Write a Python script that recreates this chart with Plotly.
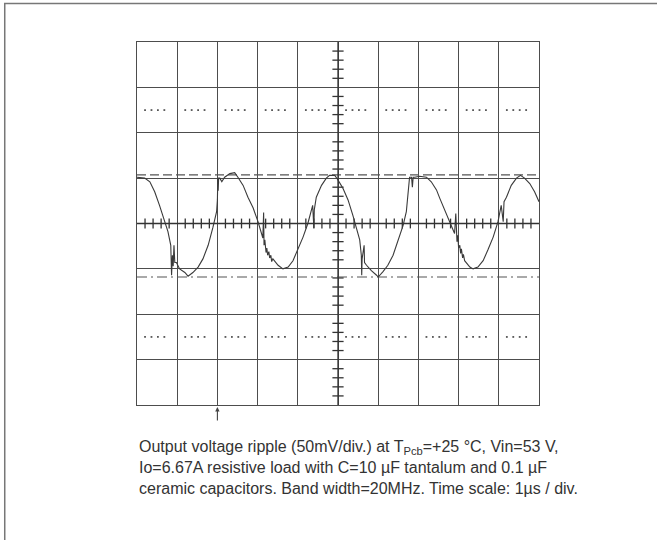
import plotly.graph_objects as go

# Time in microseconds (1 us/div), ripple voltage in mV (50 mV/div)
t_us = [-5.00, -4.81, -4.68, -4.56, -4.44, -4.31, -4.23, -4.16, -4.15, -4.14, -4.12, -4.10, -4.08, -4.06,
        -4.02, -3.94, -3.81, -3.73, -3.61, -3.48, -3.36, -3.23, -3.11, -3.02, -3.00, -2.99, -2.98, -2.97,
        -2.94, -2.89, -2.82, -2.69, -2.57, -2.49, -2.36, -2.24, -2.11, -1.99, -1.91, -1.87, -1.85, -1.84,
        -1.82, -1.81, -1.80, -1.79, -1.77, -1.75, -1.72, -1.70, -1.67, -1.65, -1.62, -1.49, -1.37, -1.24,
        -1.12, -1.00, -0.87, -0.75, -0.65, -0.63, -0.60, -0.59, -0.54, -0.41, -0.29, -0.21, -0.08, 0.00,
        0.12, 0.25, 0.37, 0.46, 0.54, 0.58, 0.59, 0.60, 0.65, 0.66, 0.71, 0.83, 0.96, 1.00,
        1.12, 1.24, 1.37, 1.49, 1.62, 1.70, 1.74, 1.78, 1.83, 1.85, 1.87, 1.91, 2.03, 2.20,
        2.32, 2.45, 2.53, 2.65, 2.78, 2.90, 2.93, 2.94, 2.96, 2.98, 3.00, 3.03, 3.05, 3.07,
        3.10, 3.12, 3.15, 3.28, 3.36, 3.48, 3.61, 3.73, 3.86, 3.98, 4.06, 4.11, 4.13, 4.19,
        4.31, 4.44, 4.54, 4.64, 4.77, 4.89, 5.00]
v_mV = [51, 50, 46, 35, 20, 2, -9, -24, -43, -57, -35, -47, -24, -43,
        -43, -50, -54, -58, -54, -48, -39, -24, -4, 13, 26, 50, 36, 50,
        50, 46, 51, 55, 56, 51, 42, 29, 17, 2, -9, -16, 12, -24,
        -18, -29, -22, -32, -27, -35, -31, -38, -35, -42, -39, -46, -50, -48,
        -41, -29, -15, 0, 17, 20, -5, 15, 29, 42, 50, 53, 53, 48,
        39, 26, 9, -4, -18, -35, -57, -39, -24, -43, -46, -52, -57, -59,
        -53, -46, -35, -20, -2, 13, 35, 51, 51, 40, 51, 51, 52, 51,
        46, 37, 28, 15, 2, -11, 11, -16, -20, -13, -27, -24, -33, -28,
        -38, -34, -41, -48, -50, -48, -41, -29, -15, 2, 20, 2, 24, 29,
        42, 50, 53, 50, 44, 35, 24]

cursor_upper_mV = 53.5
cursor_lower_mV = -59
channel_level_mV = 12
trigger_time_us = -3.0

caption = ("Output voltage ripple (50mV/div.) at T<sub>Pcb</sub>=+25 °C, Vin=53 V,<br>"
           "Io=6.67A resistive load with C=10 µF tantalum and 0.1 µF<br>"
           "ceramic capacitors. Band width=20MHz. Time scale: 1µs / div.")

GRID = "#4d4d4d"
fig = go.Figure()

# Graticule ticks on centre axes (0.2 div)
vt = [k * 10 for k in range(-19, 20) if k % 5 != 0]
ht = [k * 0.2 for k in range(-24, 25) if k % 5 != 0]
fig.add_trace(go.Scatter(x=[0] * len(vt), y=vt, mode="markers", hoverinfo="skip",
                         marker=dict(symbol="line-ew", size=8, line=dict(width=1.3, color="#333"))))
fig.add_trace(go.Scatter(x=ht, y=[0] * len(ht), mode="markers", hoverinfo="skip",
                         marker=dict(symbol="line-ns", size=7, line=dict(width=1.3, color="#333"))))

# Dotted rows
dx, dy = [], []
for k in range(-5, 5):
    for j in range(4):
        for yy in (125, -125):
            dx.append(k + 0.2 + 0.16 * j)
            dy.append(yy)
fig.add_trace(go.Scatter(x=dx, y=dy, mode="markers", hoverinfo="skip",
                         marker=dict(symbol="square", size=1.8, color="#555", line=dict(width=0))))

# Cursors
fig.add_trace(go.Scatter(x=[-5, 5], y=[cursor_upper_mV] * 2, mode="lines",
                         line=dict(color="#555", width=1.3, dash="9px,4px")))
fig.add_trace(go.Scatter(x=[-5, 5], y=[cursor_lower_mV] * 2, mode="lines",
                         line=dict(color="#555", width=1.1, dash="10px,4px,2px,4px")))

# Waveform
fig.add_trace(go.Scatter(x=t_us, y=v_mV, mode="lines", line=dict(color="#3a3a3a", width=1.1)))

# Channel markers
fig.add_trace(go.Scatter(x=[-5.12], y=[channel_level_mV], mode="markers", cliponaxis=False,
                         marker=dict(symbol="triangle-right", size=7, color="#222")))
fig.add_trace(go.Scatter(x=[5.08], y=[channel_level_mV], mode="markers+text", cliponaxis=False,
                         text=["1"], textposition="middle right",
                         textfont=dict(size=10, color="#222", family="Liberation Sans"),
                         marker=dict(symbol="triangle-left", size=6, color="#222")))

shapes = [
    dict(type="line", xref="x", yref="y", x0=0, x1=0, y0=-200, y1=200, line=dict(color="#333", width=1.3)),
    dict(type="line", xref="x", yref="y", x0=-5, x1=5, y0=0, y1=0, line=dict(color="#333", width=1.3)),
    dict(type="rect", xref="paper", yref="paper", x0=-0.329, x1=1.4, y0=-0.5, y1=1.106,
         line=dict(color="#777", width=1.5), layer="below"),
]

annotations = [
    dict(x=trigger_time_us, y=-200, xref="x", yref="y", ax=0, ay=17, showarrow=True,
         arrowhead=2, arrowsize=0.8, arrowwidth=1.1, arrowcolor="#444", standoff=2, text=""),
    dict(x=0.0, y=-0.085, xref="paper", yref="paper", xanchor="left", yanchor="top",
         align="left", showarrow=False, text=caption,
         font=dict(family="Liberation Sans, Arial", size=16, color="#333")),
]

axis_common = dict(showgrid=True, gridcolor=GRID, gridwidth=1.2, zeroline=False,
                   showticklabels=False, ticks="", showline=True, linecolor=GRID,
                   linewidth=1.4, mirror=True, fixedrange=True)
fig.update_layout(
    width=657, height=540,
    margin=dict(l=137, r=118, t=42, b=135),
    paper_bgcolor="white", plot_bgcolor="white",
    showlegend=False,
    xaxis=dict(range=[-5, 5], dtick=1, tick0=0, **axis_common),
    yaxis=dict(range=[-200, 200], dtick=50, tick0=0, **axis_common),
    shapes=shapes, annotations=annotations,
)

fig.write_html("out.html", config={"displayModeBar": False},
               post_script="document.body.style.margin='0';")
